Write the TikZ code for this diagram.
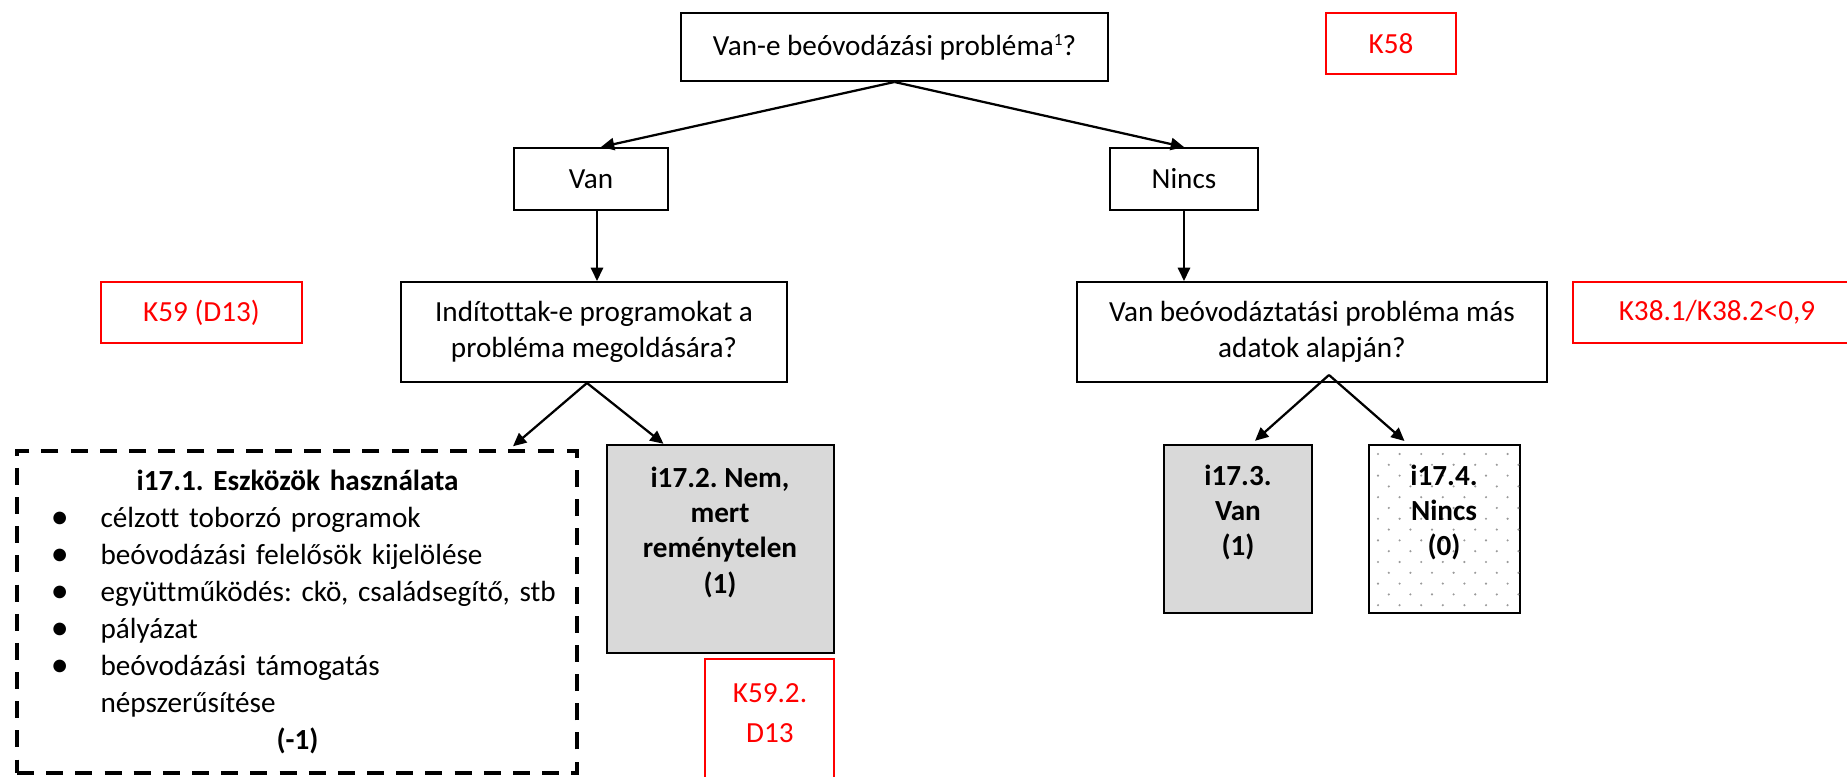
\documentclass[tikz,border=0pt]{standalone}
\usepackage{fontspec}
\setmainfont{Carlito}[Ligatures=NoCommon]
\usetikzlibrary{arrows.meta,calc,fit}
\definecolor{boxgray}{HTML}{D9D9D9}
\definecolor{dotgray}{HTML}{9A9A9A}
\newcommand{\lbul}{\makebox[31.3pt][l]{\hspace{12.6pt}\raisebox{-0.4pt}{\fontsize{13.5}{13.5}\selectfont\textbullet}}}
\frenchspacing
\begin{document}
\begin{tikzpicture}[x=0.377pt,y=-0.377pt,
  base/.style={inner sep=0pt,align=center,font=\fontsize{11}{13.3}\selectfont\frenchspacing},
  box/.style={inner sep=0pt,draw=black,line width=0.75pt},
  redbox/.style={inner sep=0pt,draw=red,line width=0.75pt},
  graybox/.style={inner sep=0pt,draw=black,line width=0.9pt,fill=boxgray},
  dashbox/.style={inner sep=0pt,draw=black,line width=1.3pt,dash pattern=on 6.4pt off 4.6pt},
  rtxt/.style={base,text=red},
  btxt/.style={inner sep=0pt,align=center,font=\fontsize{11}{13.3}\selectfont\bfseries\frenchspacing},
  arr/.style={line width=0.85pt,-{Triangle[length=5pt,width=4.6pt]}},
]
\useasboundingbox (0,0) rectangle (1847,777);

\node[box,fit={(681,13) (1108,81)}] (top) {};
\node[base] (topt) at (top.center) {Van-e beóvodázási probléma\raisebox{3.7pt}{\fontsize{6.5}{6.5}\selectfont 1}?};
\node[redbox,fit={(1326,13) (1456,74)}] (k58) {};
\node[rtxt] (k58t) at (k58.center) {K58};
\node[box,fit={(514,148) (668,210)}] (van) {};
\node[base] (vant) at (van.center) {Van};
\node[box,fit={(1110,148) (1258,210)}] (nincs) {};
\node[base] (nincst) at (nincs.center) {Nincs};
\node[box,fit={(401,282) (787,382)}] (indit) {};
\node[base] (inditt) at (indit.center) {Indítottak-e programokat a\\probléma megoldására?};
\node[redbox,fit={(101,282) (302,343)}] (k59) {};
\node[rtxt] (k59t) at (k59.center) {K59 (D13)};
\node[box,fit={(1077,282) (1547,382)}] (vanbeo) {};
\node[base] (vanbeot) at (vanbeo.center) {Van beóvodáztatási probléma más\\adatok alapján?};
\node[redbox,fit={(1573,282) (1861,343)}] (k38) {};
\node[rtxt] (k38t) at (k38.center) {K38.1/K38.2<0,9};

\node[dashbox,fit={(17,451) (577,773)}] (i171) {};
\node[graybox,fit={(607,445) (834,653)}] (i172) {};
\node[redbox,fit={(705,659) (834,800)}] (k592) {};
\node[graybox,fit={(1164,445) (1312,613)}] (i173) {};
\node[box,fit={(1369,445) (1520,613)}] (i174) {};

\begin{scope}
\clip (i174.south west) rectangle (i174.north east);
\foreach \r in {0,...,15}{
  \foreach \c in {0,...,7}{
    \fill[dotgray] ({1378+21.6*\c+10.8*mod(\r,2)},{454+10.8*\r}) circle (0.45pt);
  }}
\end{scope}

\node[anchor=north west,inner sep=0pt,text width=211.1pt,align=left,font=\fontsize{11}{13.95}\selectfont\frenchspacing] (i171t) at (17,464) {%
\strut\makebox[\linewidth]{\bfseries i17.1. Eszközök használata}\\
\lbul célzott toborzó programok\\
\lbul beóvodázási felelősök kijelölése\\
\lbul együttműködés: ckö, családsegítő, stb\\
\lbul pályázat\\
\lbul beóvodázási támogatás\\
\hspace*{31.3pt}népszerűsítése\\
\makebox[\linewidth]{\bfseries (-1)}};

\node[btxt,anchor=north] (i172t) at (720,462) {\strut i17.2. Nem,\\mert\\reménytelen\\(1)};
\node[btxt,anchor=north] (i173t) at (1238,460) {\strut i17.3.\\Van\\(1)};
\node[btxt,anchor=north] (i174t) at (1444,460) {\strut i17.4.\\Nincs\\(0)};
\node[base,text=red,anchor=north,font=\fontsize{11}{15}\selectfont] (k592t) at (770,674) {\strut K59.2.\\D13};

\coordinate (vanin) at ($(van.north)+(10,0)$);
\draw[arr] (top.south) -- (vanin);
\draw[arr] (top.south) -- (nincs.north);
\coordinate (vandown) at ($(van.south)+(6,0)$);
\draw[arr] (vandown) -- (vandown |- indit.north);
\draw[arr] (nincs.south) -- (nincs.south |- vanbeo.north);
\coordinate (ia) at ($(indit.south)+(-7,0)$);
\coordinate (t1) at ($(i171.north)+(216,-3)$);
\coordinate (t2) at ($(i172.north)+(-57,0)$);
\draw[arr] (ia) -- (t1);
\draw[arr] (ia) -- (t2);
\coordinate (va) at ($(vanbeo.south)+(17,-8)$);
\coordinate (t3) at ($(i173.north)+(17,-3)$);
\coordinate (t4) at ($(i174.north)+(-40,-3)$);
\draw[arr] (va) -- (t3);
\draw[arr] (va) -- (t4);
\end{tikzpicture}
\end{document}
